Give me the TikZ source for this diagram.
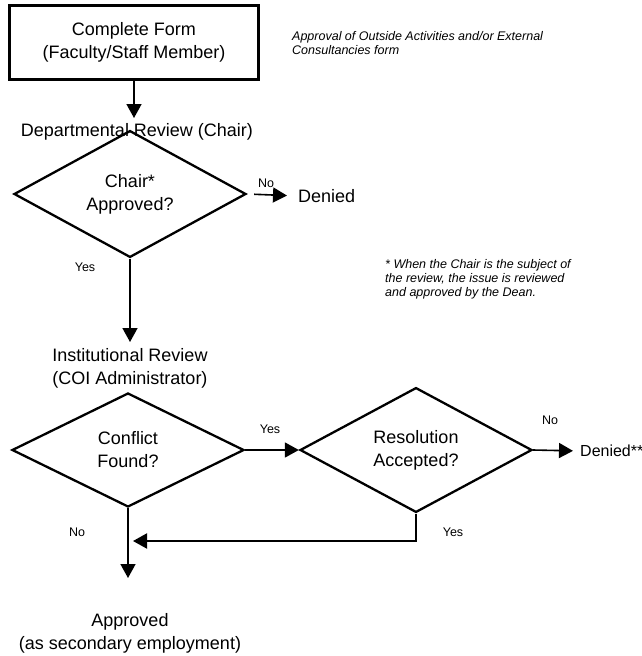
\documentclass[tikz,border=0pt]{standalone}
\usepackage{fontspec}
\setmainfont{Liberation Sans}
\usetikzlibrary{shapes.geometric, arrows.meta}

\begin{document}
\begin{tikzpicture}[x=1pt, y=-1pt,
	big/.style={font=\fontsize{18}{23}\selectfont, align=center, inner sep=0pt},
	small/.style={font=\fontsize{12.5}{14}\selectfont, inner sep=0pt},
	note/.style={font=\fontsize{12.5}{14}\selectfont\itshape, align=left, inner sep=0pt, anchor=west},
	decision/.style={draw, diamond, line width=2.3pt, minimum width=232pt, minimum height=114pt, big},
	flow/.style={line width=1.6pt, -{Triangle[length=14pt, width=15pt]}}]
			\useasboundingbox (0, 0) rectangle (642, 656);
			
			\node [draw, line width=3pt, minimum width=249pt, minimum height=74pt, big] (Form) at (134, 42) {Complete Form\\(Faculty/Staff Member)};
			\node [note] (Formnote) at (292, 43.5) {Approval of Outside Activities and/or External\\Consultancies form};
			
			\node [big] (Dept) at (137, 132) {Departmental Review (Chair)};
			\node [decision] (Chair) at (130, 194) {Chair*\\Approved?};
			\node [big, anchor=west] (Denied) at (298, 196) {Denied};
			\node [note] (Chairnote) at (385, 279) {* When the Chair is the subject of\\the review, the issue is reviewed\\and approved by the Dean.};
			
			\node [big] (Inst) at (130, 368) {Institutional Review\\(COI Administrator)};
			\node [decision] (Conflict) at (128, 450) {Conflict\\Found?};
			\node [decision] (Resol) at (416, 450) {Resolution\\Accepted?};
			\node [big, font=\fontsize{16}{20}\selectfont, anchor=west] (Denied2) at (580, 451) {Denied**};
			\node [big] (Approved) at (130, 633) {Approved\\(as secondary employment)};
			
			% tips of the arrows
			\coordinate (Dtip) at (134, 118);
			\coordinate (Itip) at (130, 342);
			\coordinate (Atip) at (128, 578);
			\coordinate (Merge) at (133, 541);
			
			\draw[flow] (Form.south) -- (Dtip);
			\draw[flow, shorten <=7pt, shorten >=11pt] (Chair.east) -- (Denied.west);
			\draw[flow] (Chair.south) -- (Itip);
			\draw[flow] (Conflict.east) -- (Resol.west);
			\draw[flow, shorten >=7pt] (Resol.east) -- (Denied2.west);
			\draw[flow] (Conflict.south) -- (Atip);
			\draw[flow, line width=2pt] (Resol.south) |- (Merge);
			
			\node [small] (Nolabel1) at (266, 183) {No};
			\node [small] (Yeslabel1) at (85, 267) {Yes};
			\node [small] (Yeslabel2) at (270, 429) {Yes};
			\node [small] (Nolabel2) at (550, 420) {No};
			\node [small] (Nolabel3) at (77, 532) {No};
			\node [small] (Yeslabel3) at (453, 532) {Yes};
		\end{tikzpicture}
\end{document}
